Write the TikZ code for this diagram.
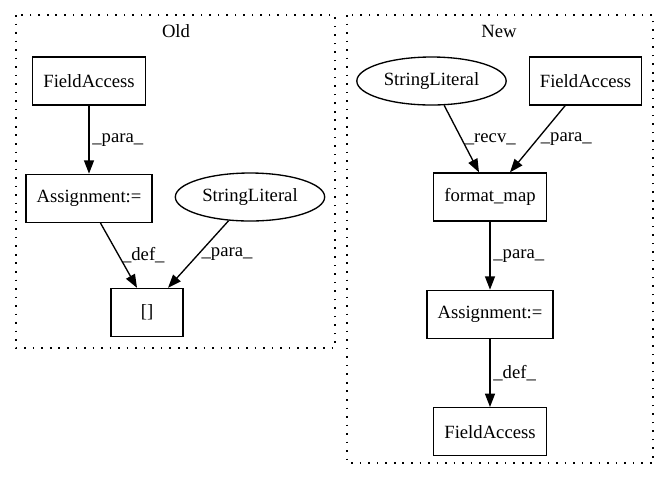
\documentclass[tikz,border=0pt]{standalone}
\usepackage{fontspec}
\setmainfont{Liberation Serif}
\usetikzlibrary{shapes.geometric, arrows.meta, positioning}
\tikzstyle{box} = [rectangle, draw=black, line width=1pt, minimum width=54pt, minimum height=36pt, inner xsep=8pt, text centered, font=\fontsize{14pt}{16pt}\selectfont]
\tikzstyle{lit} = [ellipse, draw=black, line width=1pt, minimum width=112pt, minimum height=36pt, inner sep=0pt, text centered, font=\fontsize{14pt}{16pt}\selectfont]
\tikzstyle{cluster} = [draw=black, line width=1pt, dash pattern=on 1.2pt off 5.2pt]
\tikzstyle{title} = [font=\fontsize{14pt}{16pt}\selectfont, inner sep=0pt]
\tikzstyle{elabel} = [anchor=west, inner sep=2pt, font=\fontsize{14pt}{16pt}\selectfont]
\tikzstyle{arrow} = [line width=1pt, -{Triangle[length=10pt, width=7.5pt]}]

\begin{document}
\begin{tikzpicture}[x=0.75pt, y=-0.75pt, node distance=51pt]
    \useasboundingbox (0,0) rectangle (668,480);
    \draw [cluster] (16,15) rectangle (335,348);
    \draw [cluster] (347,15) rectangle (653,463);
    \node [title] (oldtitle) at (176,31) {Old};
    \node [title] (newtitle) at (499,31) {New};

    \node [box] at (89,81)							(fieldold)		{FieldAccess};
    \node [box, below=of fieldold]					(assignold)		{Assignment:=};
    \node [lit] at (250,197)						(strold)		{StringLiteral};
    \node [box] at (147,312.5)						(index)			{[]};

    \node [lit] at (431.5,81)						(strnew)		{StringLiteral};
    \node [box] at (585.5,81)						(fieldnew)		{FieldAccess};
    \node [box] at (490,197)						(fmap)			{format\_map};
    \node [box, below=of fmap]						(assignnew)		{Assignment:=};
    \node [box, below=of assignnew]					(fieldout)		{FieldAccess};

    \draw [arrow] (fieldold) -- node[elabel]{\_para\_} (assignold);
    \draw [arrow] ([xshift=8.6pt]assignold.south) -- node[elabel]{\_def\_} ([xshift=-7.5pt]index.north);
    \draw [arrow] (strold) -- node[elabel]{\_para\_} ([xshift=15.75pt]index.north);

    \draw [arrow] (strnew) -- node[elabel]{\_recv\_} ([xshift=-8.25pt]fmap.north);
    \draw [arrow] (fieldnew) -- node[elabel]{\_para\_} ([xshift=15pt]fmap.north);
    \draw [arrow] (fmap) -- node[elabel]{\_para\_} (assignnew);
    \draw [arrow] (assignnew) -- node[elabel]{\_def\_} (fieldout);
\end{tikzpicture}
\end{document}
